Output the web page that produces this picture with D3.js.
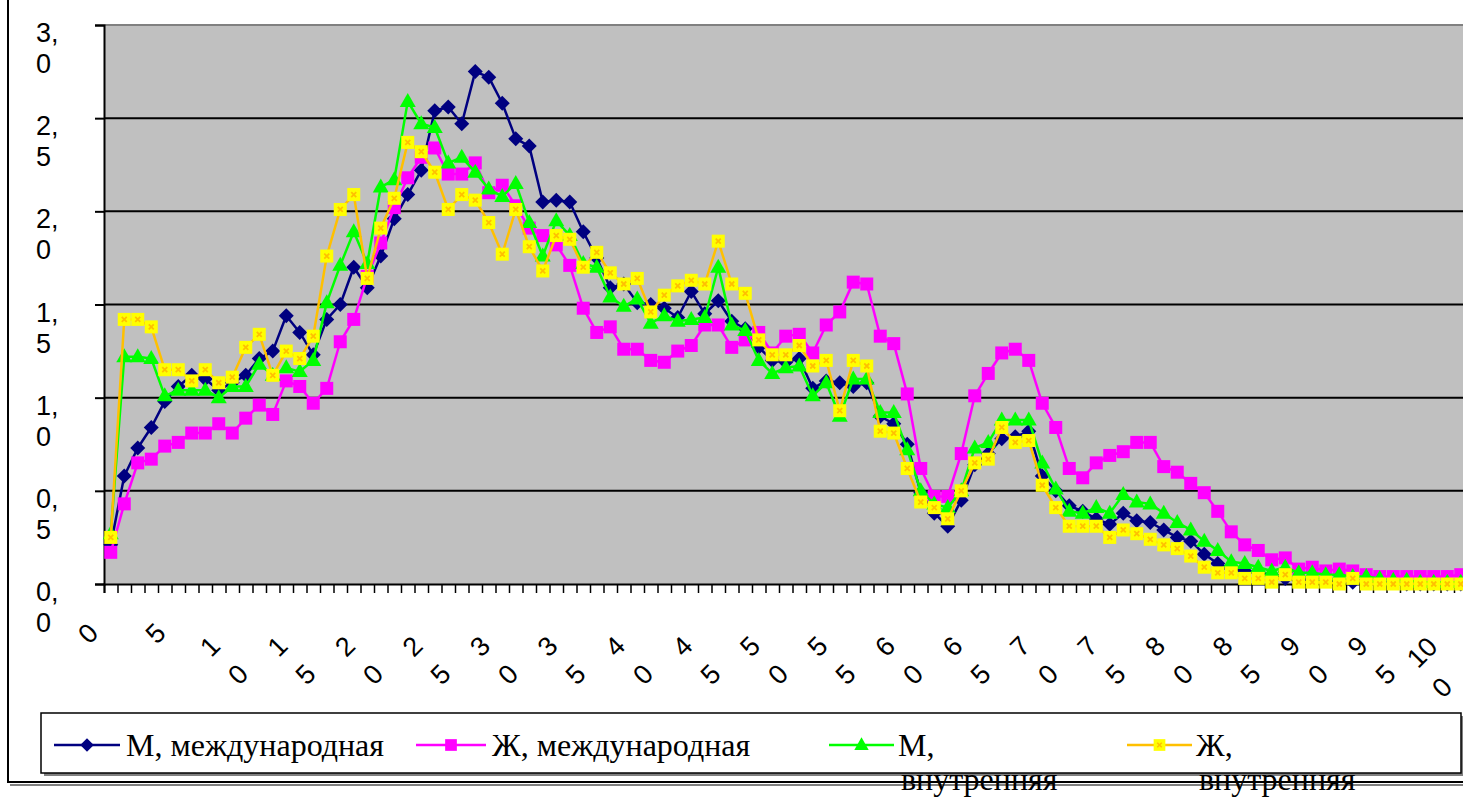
<!DOCTYPE html>
<html>
<head>
<meta charset="utf-8">
<script src="https://cdn.jsdelivr.net/npm/d3@7"></script>
<style>
  body { margin: 0; background: #fff; }
  svg { display: block; }
</style>
</head>
<body>
<div id="chart"></div>
<script>
// age categories 0..100
const ages = d3.range(0, 101);
const tickLabels = ["0", "5", "10", "15", "20", "25", "30", "35", "40", "45", "50",
  "55", "60", "65", "70", "75", "80", "85", "90", "95", "100"];
const yTicks = [0, 0.5, 1, 1.5, 2, 2.5, 3];
const yTickLabels = ["0,0", "0,5", "1,0", "1,5", "2,0", "2,5", "3,0"];

const seriesNames = ["М, международная", "Ж, международная", "М, внутренняя", "Ж, внутренняя"];

const maleIntl = [
  0.21, 0.58, 0.73, 0.84, 0.98, 1.06, 1.12, 1.10, 1.04, 1.08,
  1.12, 1.21, 1.25, 1.44, 1.35, 1.23, 1.42, 1.50, 1.70, 1.59,
  1.76, 1.96, 2.09, 2.22, 2.54, 2.56, 2.47, 2.75, 2.72, 2.58,
  2.39, 2.35, 2.05, 2.06, 2.05, 1.89, 1.75, 1.59, 1.61, 1.51,
  1.50, 1.48, 1.43, 1.57, 1.45, 1.52, 1.41, 1.37, 1.27, 1.20,
  1.19, 1.21, 1.05, 1.09, 1.08, 1.06, 1.08, 0.90, 0.86, 0.75,
  0.49, 0.38, 0.31, 0.45, 0.64, 0.70, 0.78, 0.79, 0.82, 0.58,
  0.50, 0.42, 0.39, 0.35, 0.32, 0.38, 0.34, 0.33, 0.29, 0.25,
  0.23, 0.16, 0.11, 0.08, 0.07, 0.06, 0.05, 0.03, 0.02, 0.03,
  0.02, 0.01, 0.01, 0.01, 0.01, 0.01, 0.00, 0.00, 0.00, 0.00,
  0.00
];
const femaleIntl = [
  0.17, 0.43, 0.65, 0.67, 0.74, 0.76, 0.81, 0.81, 0.86, 0.81,
  0.89, 0.96, 0.91, 1.09, 1.06, 0.97, 1.05, 1.30, 1.42, 1.65,
  1.83, 2.02, 2.18, 2.29, 2.34, 2.20, 2.20, 2.26, 2.10, 2.14,
  2.03, 1.91, 1.87, 1.82, 1.71, 1.48, 1.35, 1.38, 1.26, 1.26,
  1.20, 1.19, 1.25, 1.28, 1.39, 1.39, 1.27, 1.31, 1.35, 1.24,
  1.33, 1.34, 1.24, 1.39, 1.46, 1.62, 1.61, 1.33, 1.29, 1.02,
  0.62, 0.47, 0.47, 0.70, 1.01, 1.13, 1.24, 1.26, 1.20, 0.97,
  0.84, 0.62, 0.57, 0.65, 0.69, 0.71, 0.76, 0.76, 0.63, 0.60,
  0.54, 0.49, 0.39, 0.28, 0.21, 0.18, 0.13, 0.14, 0.08, 0.09,
  0.07, 0.08, 0.07, 0.05, 0.04, 0.04, 0.04, 0.04, 0.04, 0.04,
  0.05
];
const maleDom = [
  0.27, 1.22, 1.22, 1.21, 1.01, 1.04, 1.04, 1.04, 1.00, 1.06,
  1.06, 1.18, 1.12, 1.16, 1.14, 1.20, 1.51, 1.71, 1.89, 1.72,
  2.13, 2.17, 2.59, 2.47, 2.45, 2.26, 2.29, 2.21, 2.12, 2.08,
  2.15, 1.94, 1.76, 1.95, 1.87, 1.72, 1.70, 1.54, 1.49, 1.53,
  1.40, 1.44, 1.41, 1.42, 1.43, 1.70, 1.39, 1.36, 1.20, 1.13,
  1.16, 1.17, 1.01, 1.08, 0.90, 1.10, 1.10, 0.92, 0.92, 0.72,
  0.50, 0.43, 0.41, 0.50, 0.73, 0.76, 0.88, 0.88, 0.88, 0.65,
  0.51, 0.39, 0.38, 0.41, 0.38, 0.48, 0.44, 0.43, 0.38, 0.33,
  0.29, 0.23, 0.18, 0.12, 0.11, 0.09, 0.07, 0.09, 0.06, 0.06,
  0.05, 0.05, 0.04, 0.04, 0.03, 0.02, 0.02, 0.01, 0.01, 0.01,
  0.01
];
const femaleDom = [
  0.25, 1.42, 1.42, 1.38, 1.15, 1.15, 1.09, 1.15, 1.08, 1.11,
  1.27, 1.34, 1.12, 1.25, 1.21, 1.33, 1.76, 2.01, 2.09, 1.64,
  1.91, 2.07, 2.37, 2.32, 2.21, 2.01, 2.09, 2.06, 1.94, 1.77,
  2.01, 1.81, 1.68, 1.87, 1.85, 1.70, 1.78, 1.67, 1.61, 1.64,
  1.46, 1.55, 1.60, 1.63, 1.61, 1.84, 1.61, 1.56, 1.31, 1.23,
  1.23, 1.28, 1.17, 1.20, 0.93, 1.20, 1.17, 0.82, 0.81, 0.62,
  0.44, 0.41, 0.35, 0.50, 0.65, 0.67, 0.84, 0.76, 0.77, 0.53,
  0.41, 0.31, 0.31, 0.31, 0.25, 0.29, 0.27, 0.24, 0.21, 0.19,
  0.15, 0.09, 0.06, 0.06, 0.03, 0.03, 0.01, 0.05, 0.01, 0.01,
  0.01, 0.00, 0.03, 0.00, 0.00, 0.00, 0.00, 0.00, 0.00, 0.00,
  0.00
];

const series = [
  { name: seriesNames[0], values: maleIntl, color: "#000080", marker: "diamond" },
  { name: seriesNames[1], values: femaleIntl, color: "#ff00ff", marker: "square" },
  { name: seriesNames[2], values: maleDom, color: "#00ff00", marker: "triangle" },
  { name: seriesNames[3], values: femaleDom, color: "#ffc000", marker: "star" },
];

const W = 1463, H = 798;
const plot = { left: 104, top: 25, bottom: 584 };
const band = 13.5;
plot.right = plot.left + band * ages.length;

const svg = d3.select("#chart").append("svg")
  .attr("width", W).attr("height", H)
  .attr("viewBox", `0 0 ${W} ${H}`);

// chart area border (left + bottom visible)
svg.append("path")
  .attr("d", `M8,-5 V782 H${W + 5}`)
  .attr("fill", "none").attr("stroke", "#000").attr("stroke-width", 2);
svg.append("path")
  .attr("d", `M10,785 H${W + 5}`)
  .attr("fill", "none").attr("stroke", "#808080").attr("stroke-width", 2);

const x = d3.scaleBand().domain(ages).range([plot.left, plot.right]).padding(0);
const y = d3.scaleLinear().domain([0, 3]).range([plot.bottom, plot.top]);
const cx = (a) => x(a) + x.bandwidth() / 2;

// plot area
svg.append("rect")
  .attr("x", plot.left).attr("y", plot.top)
  .attr("width", plot.right - plot.left).attr("height", plot.bottom - plot.top)
  .attr("fill", "#c0c0c0");

// gridlines
svg.append("g").selectAll("line")
  .data(yTicks.filter((t) => t > 0))
  .join("line")
  .attr("x1", plot.left).attr("x2", plot.right)
  .attr("y1", (d) => y(d)).attr("y2", (d) => y(d))
  .attr("stroke", (d) => (d === 3 ? "#808080" : "#000"))
  .attr("stroke-width", 2);

// x axis: ticks between categories
const tickScale = d3.scaleLinear().domain([0, ages.length]).range([plot.left, plot.right]);
const xAxisG = svg.append("g")
  .attr("transform", `translate(0, ${plot.bottom})`)
  .call(d3.axisBottom(tickScale).tickValues(d3.range(0, ages.length + 1)).tickSize(9).tickFormat(""));
xAxisG.select(".domain").attr("stroke", "#000").attr("stroke-width", 2);
xAxisG.selectAll(".tick line").attr("stroke", "#000").attr("stroke-width", 1.5);

// y axis
const yAxisG = svg.append("g")
  .attr("transform", `translate(${plot.left}, 0)`)
  .call(d3.axisLeft(y).tickValues(yTicks).tickSize(9).tickFormat(""));
yAxisG.select(".domain").attr("stroke", "#000").attr("stroke-width", 2);
yAxisG.selectAll(".tick line").attr("stroke", "#000").attr("stroke-width", 2);

// y labels, wrapped in two lines ("3," / "0")
const yLab = svg.append("g")
  .attr("font-family", "'Liberation Sans', Arial, sans-serif")
  .attr("font-size", 27).attr("fill", "#000");
yTicks.forEach((t, i) => {
  const parts = yTickLabels[i].split(",");
  const txt = yLab.append("text").attr("x", 36).attr("y", y(t) + 17);
  txt.append("tspan").attr("x", 36).text(parts[0] + ",");
  txt.append("tspan").attr("x", 36).attr("dy", 31).text(parts[1]);
});

// x labels: rotated -45 deg, wrapped
const xLab = svg.append("g")
  .attr("font-family", "'Liberation Sans', Arial, sans-serif")
  .attr("font-size", 27).attr("fill", "#000");
tickLabels.forEach((lab) => {
  const a = +lab;
  const c = cx(a);
  let lines, pos;
  if (lab.length === 1) {
    lines = [lab];
    pos = [[-23, 633]];
  } else if (lab.length === 2) {
    lines = [lab[0], lab[1]];
    pos = [[-36, 646], [-8, 674]];
  } else {
    lines = [lab.slice(0, 2), lab.slice(2)];
    pos = [[-39, 652], [-19, 687]];
  }
  lines.forEach((s, k) => {
    const px = c + pos[k][0], py = pos[k][1];
    xLab.append("text")
      .attr("x", px).attr("y", py)
      .attr("dy", "0.36em")
      .attr("text-anchor", "middle")
      .attr("transform", `rotate(-45, ${px}, ${py})`)
      .text(s);
  });
});

// marker drawing
function drawMarker(g, type, color, size) {
  const s = size || 1;
  if (type === "diamond") {
    g.append("path").attr("d", `M0,${-7.5 * s}L${7.5 * s},0L0,${7.5 * s}L${-7.5 * s},0Z`)
      .attr("fill", color);
  } else if (type === "square") {
    g.append("rect").attr("x", -6.5 * s).attr("y", -6.5 * s)
      .attr("width", 13 * s).attr("height", 13 * s).attr("fill", color);
  } else if (type === "triangle") {
    g.append("path").attr("d", `M0,${-8.5 * s}L${8 * s},${5.5 * s}L${-8 * s},${5.5 * s}Z`)
      .attr("fill", color);
  } else {
    g.append("rect").attr("x", -6.5 * s).attr("y", -6.5 * s)
      .attr("width", 13 * s).attr("height", 13 * s).attr("fill", "#ffff00");
    g.append("path").attr("d", `M${-2.5 * s},${-2.5 * s}L${2.5 * s},${2.5 * s}M${2.5 * s},${-2.5 * s}L${-2.5 * s},${2.5 * s}`)
      .attr("stroke", color).attr("stroke-width", 1.8 * s);
  }
}

const line = d3.line()
  .x((d, i) => cx(ages[i]))
  .y((d) => y(d));

series.forEach((s) => {
  const g = svg.append("g");
  g.append("path")
    .datum(s.values)
    .attr("fill", "none")
    .attr("stroke", s.color)
    .attr("stroke-width", 2.5)
    .attr("stroke-linejoin", "round")
    .attr("d", line);
  g.selectAll("g.m")
    .data(s.values)
    .join("g")
    .attr("class", "m")
    .attr("transform", (d, i) => `translate(${cx(ages[i])}, ${y(d)})`)
    .each(function () { drawMarker(d3.select(this), s.marker, s.color, 1); });
});

// legend
const legend = svg.append("g");
legend.append("rect")
  .attr("x", 44).attr("y", 716).attr("width", 1420).attr("height", 60)
  .attr("fill", "#808080");
legend.append("rect")
  .attr("x", 41).attr("y", 713).attr("width", 1420).attr("height", 60)
  .attr("fill", "#fff").attr("stroke", "#000").attr("stroke-width", 1.5);

const legendPos = [
  { x0: 54, x1: 120, tx: 126, lines: ["М, международная"] },
  { x0: 416, x1: 486, tx: 492, lines: ["Ж, международная"] },
  { x0: 829, x1: 894, tx: 898, lines: ["М,", "внутренняя"] },
  { x0: 1127, x1: 1192, tx: 1196, lines: ["Ж,", "внутренняя"] },
];
series.forEach((s, i) => {
  const p = legendPos[i];
  const g = legend.append("g");
  g.append("line")
    .attr("x1", p.x0).attr("x2", p.x1).attr("y1", 745).attr("y2", 745)
    .attr("stroke", s.color).attr("stroke-width", 2.5);
  const m = g.append("g").attr("transform", `translate(${(p.x0 + p.x1) / 2}, 745)`);
  drawMarker(m, s.marker, s.color, 0.9);
  const t = g.append("text")
    .attr("font-family", "'Liberation Serif', 'Times New Roman', serif")
    .attr("font-size", 32).attr("fill", "#000")
    .attr("x", p.tx).attr("y", 756);
  p.lines.forEach((l, k) => {
    t.append("tspan").attr("x", p.tx + (k ? 3 : 0)).attr("dy", k ? 34 : 0).text(l);
  });
});
</script>
</body>
</html>
